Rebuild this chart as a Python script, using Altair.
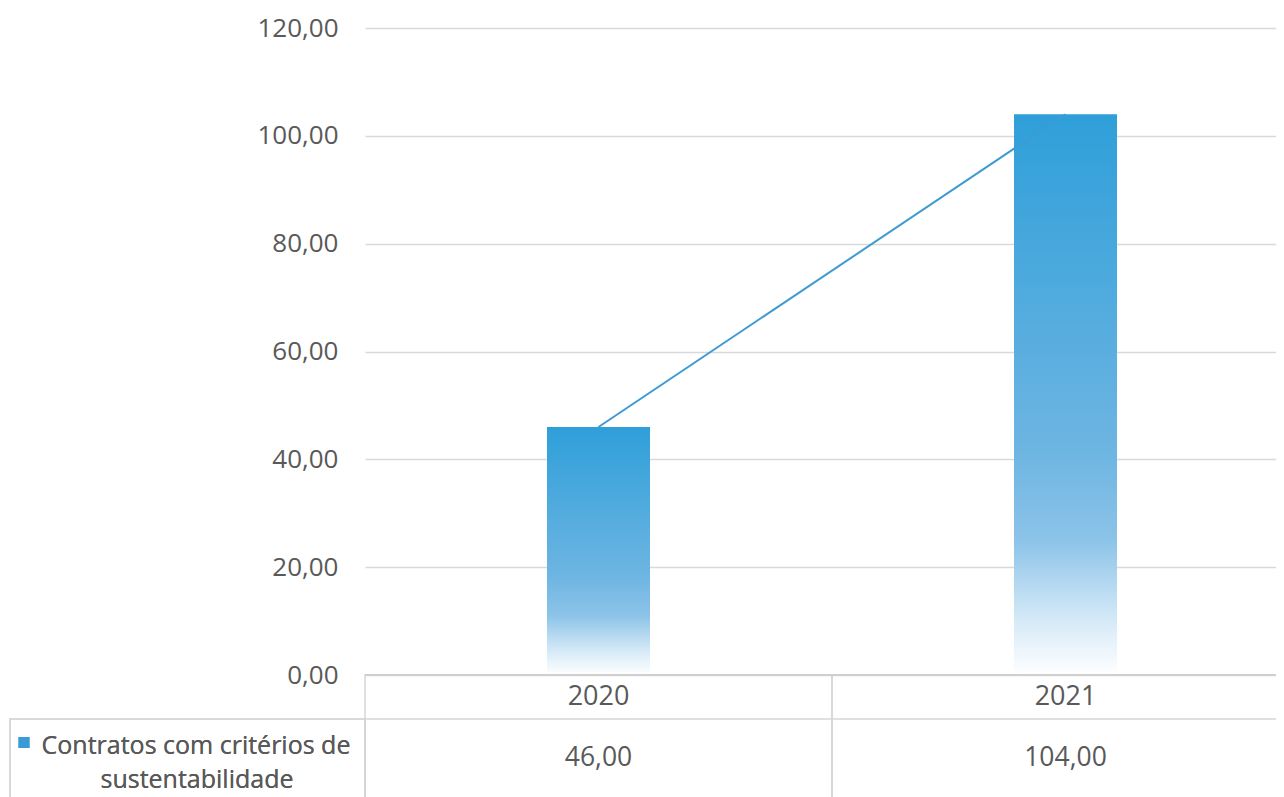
import altair as alt
import pandas as pd

years = ["2020", "2021"]
values = [46.0, 104.0]
value_labels = ["46,00", "104,00"]
series_line1 = ["Contratos com critérios de"]
series_line2 = ["sustentabilidade"]
y_ticks = [0, 20, 40, 60, 80, 100, 120]

W, H = 911, 647
FONT = "Open Sans"
GRAY = "#595959"
BORDER = "#d6d6d6"

df = pd.DataFrame({"year": years, "value": values, "label": value_labels,
                   "l1": series_line1 * 2, "l2": series_line2 * 2})

xscale = alt.Scale(domain=years, paddingInner=0, paddingOuter=0, range=[0, 934])
xenc = alt.X("year:N", scale=xscale, axis=None)
hscale = alt.Scale(domain=series_line1, paddingInner=0, paddingOuter=0, range=[-355, 0])
yenc = alt.Y("value:Q", scale=alt.Scale(domain=[0, 120]),
             axis=alt.Axis(values=y_ticks, title=None, domain=False, ticks=False,
                           labelExpr="replace(format(datum.value, '.2f'), '.', ',')",
                           labelFont=FONT, labelFontSize=26, labelColor=GRAY,
                           labelPadding=27, gridColor="#d9d9d9", gridWidth=1.5))

grad = alt.LinearGradient(
    gradient="linear", x1=0, x2=0, y1=0, y2=1,
    stops=[alt.GradientStop(color="#2F9FD9", offset=0),
           alt.GradientStop(color="#6DB5E2", offset=0.6),
           alt.GradientStop(color="#8CC3E8", offset=0.76),
           alt.GradientStop(color="#D4E9F7", offset=0.9),
           alt.GradientStop(color="#FFFFFF", offset=1)])

base = alt.Chart(df)

bars = base.mark_bar(color=grad, size=103).encode(x=xenc, y=yenc)
line = base.mark_line(color="#3C9BD2", strokeWidth=2).encode(x=xenc, y="value:Q")

# data-table cells
year_cells = base.mark_rect(fill=None, stroke=BORDER, strokeWidth=1.5).encode(
    x=xenc, y=alt.value(H), y2=alt.value(800))
val_cells = base.mark_rect(fill=None, stroke=BORDER, strokeWidth=1.5).encode(
    x=xenc, y=alt.value(691), y2=alt.value(800))
head_cell = base.mark_rect(fill=None, stroke=BORDER, strokeWidth=1.5).encode(
    x=alt.X("l1:N", scale=hscale, axis=None), y=alt.value(691), y2=alt.value(800))
zero_line = base.mark_rect(fill=None, stroke="#cfcfcf", strokeWidth=2).encode(
    x=xenc, y=alt.value(H), y2=alt.value(H))

year_text = base.mark_text(font=FONT, fontSize=27, color=GRAY, baseline="middle").encode(
    x=xenc, y=alt.value(669), text="year:N")
val_text = base.mark_text(font=FONT, fontSize=26.5, color=GRAY, baseline="middle").encode(
    x=xenc, y=alt.value(730), text="label:N")

leg_sq = base.mark_point(shape="square", filled=True, color="#3A9AD5", size=121, opacity=1,
                         xOffset=-163.5).encode(
    x=alt.X("l1:N", scale=hscale, axis=None), y=alt.value(714.5))
leg_t1 = base.mark_text(font=FONT, fontSize=25, color=GRAY, baseline="middle").encode(
    x=alt.value(-169), y=alt.value(718), text="l1:N")
leg_t2 = base.mark_text(font=FONT, fontSize=25, color=GRAY, baseline="middle").encode(
    x=alt.value(-168), y=alt.value(752), text="l2:N")

chart = alt.layer(
    bars, line, year_cells, val_cells, head_cell, zero_line,
    year_text, val_text, leg_sq, leg_t1, leg_t2
).resolve_scale(x="independent").properties(
    width=W, height=H,
    autosize=alt.AutoSizeParams(type="none"),
    padding={"left": 357, "top": 20, "right": 0, "bottom": 122},
    background="white",
).configure_view(stroke=None)

chart.save("out.html", embed_options={"renderer": "svg", "actions": False})
